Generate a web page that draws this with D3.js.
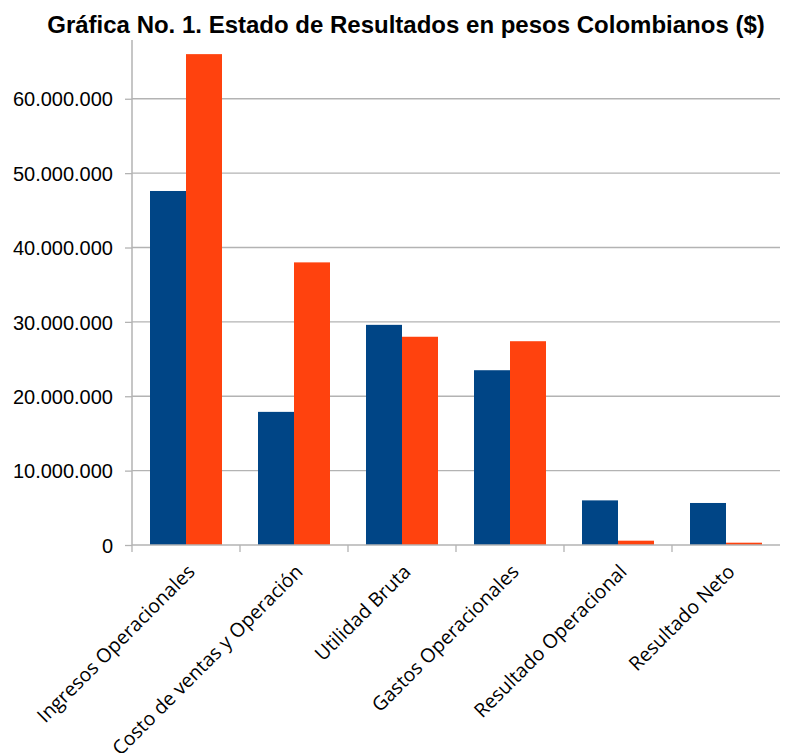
<!DOCTYPE html>
<html>
<head>
<meta charset="utf-8">
<script src="https://cdn.jsdelivr.net/npm/d3@7"></script>
<style>
	body { margin: 0; background: #fff; }
	.x-axis text { font-family: "Open Sans", sans-serif; font-size: 19.5px; fill: #000; }
	.y-axis text { font-family: "Liberation Sans", Arial, sans-serif; font-size: 20px; fill: #000; }
</style>
</head>
<body>
<div id="chart"></div>
<script>
	const categories = ['Ingresos Operacionales', 'Costo de ventas y Operación', 'Utilidad Bruta', 'Gastos Operacionales', 'Resultado Operacional', 'Resultado Neto'];
	const serieA = [47600000, 17900000, 29600000, 23500000, 6000000, 5650000];
	const serieB = [66000000, 38000000, 28000000, 27400000, 580000, 310000];
	const yTicks = [0, 10000000, 20000000, 30000000, 40000000, 50000000, 60000000];
	const title = 'Gráfica No. 1. Estado de Resultados en pesos Colombianos ($)';

	const W = 785, H = 753;
	const margin = { top: 40, right: 5, bottom: 208, left: 132 },
		width = W - margin.left - margin.right,
		height = H - margin.top - margin.bottom;

	const svg = d3.select('#chart').append('svg')
		.attr('width', W).attr('height', H);

	svg.append('text')
		.attr('x', 406).attr('y', 33)
		.attr('text-anchor', 'middle')
		.style('font-family', '"Liberation Sans", Arial, sans-serif')
		.style('font-weight', 'bold')
		.style('font-size', '24px')
		.text(title);

	const g = svg.append('g').attr('transform', `translate(${margin.left}, ${margin.top})`);

	const x = d3.scaleBand().domain(categories).range([0, width]);
	const xSub = d3.scaleBand().domain(['a', 'b']).range([0, x.bandwidth()]).paddingOuter(0.5).paddingInner(0);
	const y = d3.scaleLinear().domain([0, 67900000]).range([height, 0]);

	// gridlines
	g.append('g')
		.selectAll('line')
		.data(yTicks.slice(1))
		.enter().append('line')
		.attr('x1', 0).attr('x2', width)
		.attr('y1', d => y(d)).attr('y2', d => y(d))
		.attr('stroke', '#b3b3b3').attr('stroke-width', 1.3);

	// bars
	const rows = categories.map((c, i) => ({ cat: c, a: serieA[i], b: serieB[i] }));
	const color = { a: '#004586', b: '#ff420e' };
	g.append('g')
		.selectAll('g')
		.data(rows)
		.enter().append('g')
		.attr('transform', d => `translate(${x(d.cat)}, 0)`)
		.selectAll('rect')
		.data(d => ['a', 'b'].map(k => ({ key: k, value: d[k] })))
		.enter().append('rect')
		.attr('x', d => xSub(d.key))
		.attr('y', d => y(d.value))
		.attr('width', xSub.bandwidth())
		.attr('height', d => height - y(d.value))
		.attr('fill', d => color[d.key]);

	// y axis
	const yAxis = d3.axisLeft(y).tickValues(yTicks).tickSize(7).tickPadding(12)
		.tickFormat(d => d3.format(',')(d).replace(/,/g, '.'));
	g.append('g')
		.classed('y-axis', true)
		.call(yAxis)
		.call(a => a.selectAll('line').attr('stroke', '#b3b3b3').attr('stroke-width', 1.3))
		.call(a => a.select('.domain').attr('stroke', '#b3b3b3').attr('stroke-width', 1.5).attr('d', `M0,0V${height}`))
		.call(a => a.selectAll('text').attr('dy', '0.36em'));

	// x axis: ticks at category boundaries
	const xa = g.append('g').classed('x-axis', true).attr('transform', `translate(0, ${height})`);
	xa.append('line').attr('x1', 0).attr('x2', width).attr('stroke', '#b3b3b3').attr('stroke-width', 1.5);
	xa.selectAll('line.tk')
		.data(categories)
		.enter().append('line')
		.attr('class', 'tk')
		.attr('x1', d => x(d)).attr('x2', d => x(d))
		.attr('y1', 0).attr('y2', 7)
		.attr('stroke', '#b3b3b3').attr('stroke-width', 1.3);
	xa.selectAll('text')
		.data(categories)
		.enter().append('text')
		.attr('text-anchor', 'end')
		.attr('transform', d => `translate(${x(d) + x.bandwidth() / 2 + 10}, 28) rotate(-45)`)
		.text(d => d);
</script>
</body>
</html>
